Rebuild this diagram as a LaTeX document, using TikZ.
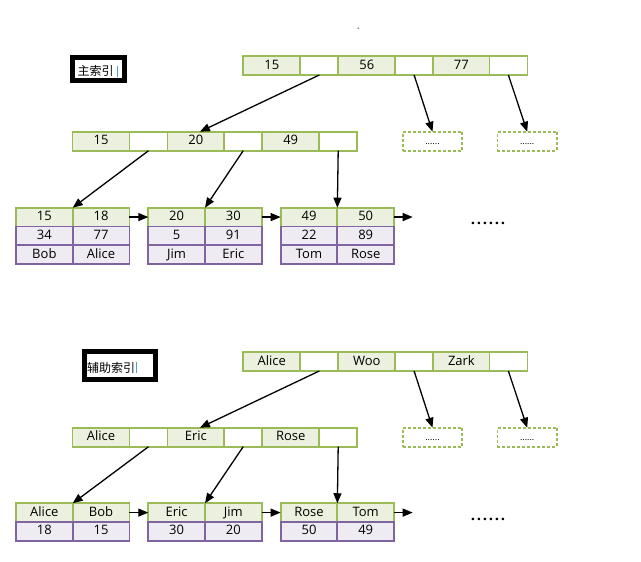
\documentclass[tikz,border=0pt]{standalone}
\usepackage{fontspec}
\setmainfont{Open Sans}
\newfontfamily\cjk{Noto Sans CJK SC}
\usetikzlibrary{arrows.meta,calc}
\definecolor{gline}{HTML}{9BBB59}
\definecolor{gfill}{HTML}{EBF1DE}
\definecolor{pline}{HTML}{8064A2}
\definecolor{pfill}{HTML}{EEEBF3}
\definecolor{caret}{HTML}{4A9FE0}
\newcommand\dotsix{\makebox[6pt]{.}\makebox[6pt]{.}\makebox[6pt]{.}\makebox[6pt]{.}\makebox[6pt]{.}\makebox[6pt]{.}}
\begin{document}
\begin{tikzpicture}[x=1pt,y=-1pt,
  base/.style={rectangle,inner sep=0pt,outer sep=0pt,line width=1.8pt,font=\fontsize{13}{13}\selectfont,minimum height=19pt,text height=9.3pt,text depth=2.2pt},
  gc/.style={base,draw=gline,fill=gfill,minimum width=57pt},
  wc/.style={base,draw=gline,fill=white,minimum width=38pt},
  lg/.style={base,draw=gline,fill=gfill,minimum width=56.7pt,minimum height=18.7pt},
  lp/.style={base,draw=pline,fill=pfill,minimum width=56.7pt,minimum height=18.7pt},
  db/.style={base,draw=gline,dash pattern=on 3pt off 2pt,minimum width=59.6pt,font=\fontsize{9}{9}\selectfont},
  lab/.style={rectangle,draw=black,line width=5pt,inner sep=0pt,outer sep=0pt},
  arr/.style={line width=1.3pt,-{Triangle[length=10pt,width=8pt]}},
  dots/.style={inner sep=0pt,font=\fontsize{15}{15}\selectfont\bfseries}
]
\useasboundingbox (0,0) rectangle (641,562);
\fill[gray] (358.3,28.3) circle (0.9pt);
\node[coordinate] (topdot) at (358.3,28.3) {};

\foreach \oy/\s/\ra/\rb/\rc/\aa/\ab/\ac in {0/t/15/56/77/15/20/49, 296/b/Alice/Woo/Zark/Alice/Eric/Rose}{
  % root
  \node[gc] (\s r1) at (271.8,65.5+\oy) {\ra};
  \node[wc] (\s r1w) at (319.3,65.5+\oy) {};
  \node[gc] (\s r2) at (366.8,65.5+\oy) {\rb};
  \node[wc] (\s r2w) at (414.1,65.5+\oy) {};
  \node[gc] (\s r3) at (461.4,65.5+\oy) {\rc};
  \node[wc] (\s r3w) at (508.4,65.5+\oy) {};
  % level 2
  \node[gc] (\s a1) at (101,141.2+\oy) {\aa};
  \node[wc] (\s a1w) at (148.5,141.2+\oy) {};
  \node[gc] (\s a2) at (195.9,141.2+\oy) {\ab};
  \node[wc] (\s a2w) at (243.2,141.2+\oy) {};
  \node[gc] (\s a3) at (290.7,141.2+\oy) {\ac};
  \node[wc] (\s a3w) at (338.2,141.2+\oy) {};
  % dashed
  \node[db] (\s d1) at (432.5,141.2+\oy) {......};
  \node[db] (\s d2) at (527.2,141.2+\oy) {......};
  % arrows
  \draw[arr] (\s r1w.south) -- ($(\s a2.north)+(4,0)$);
  \draw[arr] (\s r2w.south) -- (\s d1.north);
  \draw[arr] (\s r3w.south) -- (\s d2.north);
}

% top leaves
\node[lg] (l1a) at (44.35,217.05) {15};
\node[lg] (l1b) at (101.05,217.05) {18};
\node[lp] (l1c) at (44.35,235.75) {34};
\node[lp] (l1d) at (101.05,235.75) {77};
\node[lp] (l1e) at (44.35,254.45) {Bob};
\node[lp] (l1f) at (101.05,254.45) {Alice};
\node[lg] (l2a) at (176.65,217.05) {20};
\node[lg] (l2b) at (233.35,217.05) {30};
\node[lp] (l2c) at (176.65,235.75) {5};
\node[lp] (l2d) at (233.35,235.75) {91};
\node[lp] (l2e) at (176.65,254.45) {Jim};
\node[lp] (l2f) at (233.35,254.45) {Eric};
\node[lg] (l3a) at (309.0,217.05) {49};
\node[lg] (l3b) at (365.7,217.05) {50};
\node[lp] (l3c) at (309.0,235.75) {22};
\node[lp] (l3d) at (365.7,235.75) {89};
\node[lp] (l3e) at (309.0,254.45) {Tom};
\node[lp] (l3f) at (365.7,254.45) {Rose};
\coordinate (tnext) at (412.7,217.05);
\node[dots] (tdots) at (488,223.5) {\dotsix};

\draw[arr] (ta1w.south) -- (l1a.north east);
\draw[arr] (ta2w.south) -- (l2a.north east);
\draw[arr] (ta3w.south) -- (l3a.north east);
\draw[arr] (l1b.east) -- (l2a.west);
\draw[arr] (l2b.east) -- (l3a.west);
\draw[arr] (l3b.east) -- (tnext);

% bottom leaves
\node[lg] (m1a) at (44.35,512.6) {Alice};
\node[lg] (m1b) at (101.05,512.6) {Bob};
\node[lp] (m1c) at (44.35,531.3) {18};
\node[lp] (m1d) at (101.05,531.3) {15};
\node[lg] (m2a) at (176.65,512.6) {Eric};
\node[lg] (m2b) at (233.35,512.6) {Jim};
\node[lp] (m2c) at (176.65,531.3) {30};
\node[lp] (m2d) at (233.35,531.3) {20};
\node[lg] (m3a) at (309.0,512.6) {Rose};
\node[lg] (m3b) at (365.7,512.6) {Tom};
\node[lp] (m3c) at (309.0,531.3) {50};
\node[lp] (m3d) at (365.7,531.3) {49};
\coordinate (bnext) at (412.7,512.6);
\node[dots] (bdots) at (488,519.5) {\dotsix};

\draw[arr] (ba1w.south) -- (m1a.north east);
\draw[arr] (ba2w.south) -- (m2a.north east);
\draw[arr] (ba3w.south) -- (m3a.north east);
\draw[arr] (m1b.east) -- (m2a.west);
\draw[arr] (m2b.east) -- (m3a.west);
\draw[arr] (m3b.east) -- (bnext);

% labels
\node[lab,minimum width=51.7pt,minimum height=22.1pt] (lab1) at (98.35,68.95) {};
\node[inner sep=0pt,font=\cjk\fontsize{12}{12}\selectfont] (lab1t) at (95.7,71) {主索引};
\draw[caret,line width=0.8pt] ($(lab1t.east)+(3,-5.5)$) -- ($(lab1t.east)+(3,5.5)$);
\node[lab,minimum width=70.7pt,minimum height=27.7pt] (lab2) at (120.15,365.35) {};
\node[inner sep=0pt,font=\cjk\fontsize{12}{12}\selectfont] (lab2t) at (111,367.5) {辅助索引};
\draw[caret,line width=0.8pt] ($(lab2t.east)+(1.5,-5.5)$) -- ($(lab2t.east)+(1.5,5.5)$);
\end{tikzpicture}
\end{document}
